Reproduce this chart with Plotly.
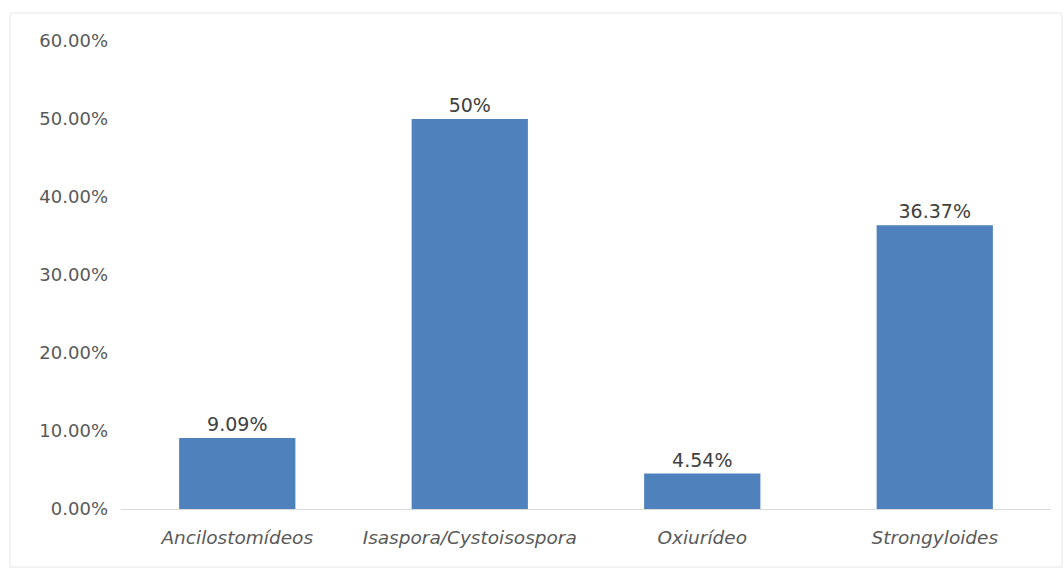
import plotly.graph_objects as go

categories = ["Ancilostomídeos", "Isaspora/Cystoisospora", "Oxiurídeo", "Strongyloides"]
values = [0.0909, 0.50, 0.0454, 0.3637]
labels = ["9.09%", "50%", "4.54%", "36.37%"]
tick_vals = [0, 0.1, 0.2, 0.3, 0.4, 0.5, 0.6]
tick_text = ["0.00%", "10.00%", "20.00%", "30.00%", "40.00%", "50.00%", "60.00%"]

W, H = 1064, 569
L, R, T, B = 121, 13, 41, 60
pw, ph = W - L - R, H - T - B
FONT = "DejaVu Sans, Verdana, sans-serif"

fig = go.Figure(go.Bar(
    x=categories, y=values, text=labels, textposition="outside",
    marker=dict(color="#4f81bd", line=dict(width=0)),
    textfont=dict(family=FONT, size=19, color="#404040"),
    width=0.5, cliponaxis=False,
))

fig.update_layout(
    width=W, height=H,
    margin=dict(l=L, r=R, t=T, b=B),
    paper_bgcolor="white", plot_bgcolor="white",
    showlegend=False,
    font=dict(family=FONT, size=18, color="#595959"),
    xaxis=dict(showgrid=False, showline=True, linecolor="#d9d9d9", linewidth=1,
               ticks="", tickfont=dict(family=FONT, size=18.5, color="#595959"),
               ticklabelstandoff=12,
               tickvals=categories, ticktext=[f"<i>{c}</i>" for c in categories]),
    yaxis=dict(range=[0, 0.6], tickvals=tick_vals, ticktext=tick_text, showgrid=False,
               zeroline=False, showline=False, ticks="",
               tickfont=dict(family=FONT, size=18, color="#595959"), ticklabelstandoff=12),
    shapes=[dict(type="rect", xref="paper", yref="paper",
                 x0=(10 - L) / pw, x1=(1062 - L) / pw,
                 y0=-(567 - (T + ph)) / ph, y1=1 + (T - 13) / ph,
                 line=dict(color="#e6e6e6", width=1), fillcolor="rgba(0,0,0,0)", layer="below")],
)

fig.write_html("out.html")
